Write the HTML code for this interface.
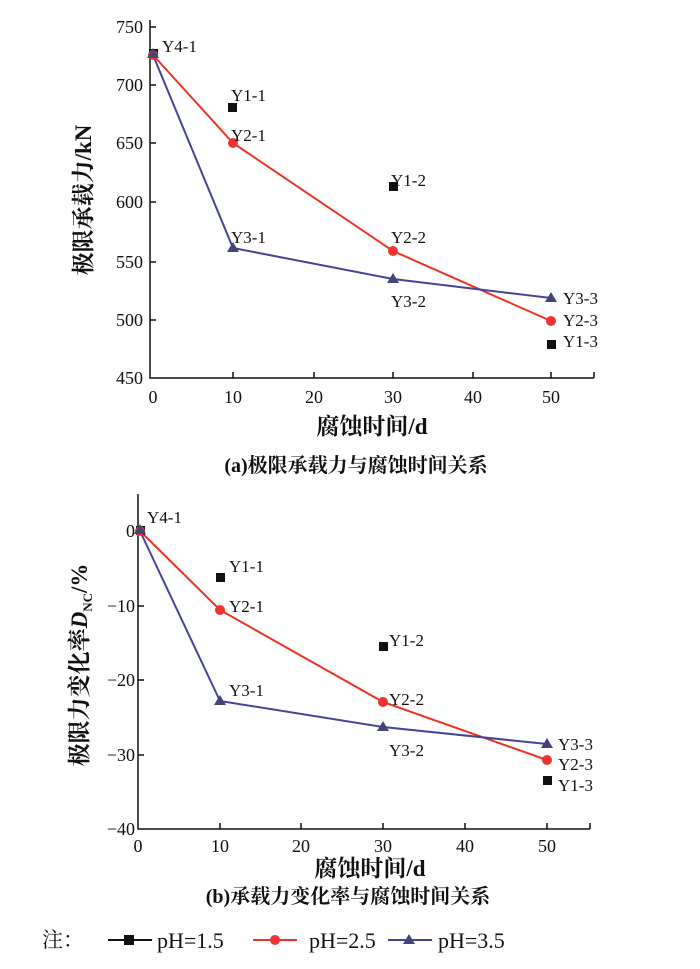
<!DOCTYPE html>
<html><head><meta charset="utf-8"><style>
html,body{margin:0;padding:0;background:#fff}
svg text{font-family:"Liberation Serif","Noto Serif CJK SC",serif;fill:#111}
</style></head><body>
<svg width="700" height="964" viewBox="0 0 700 964" xmlns="http://www.w3.org/2000/svg">
<!-- Chart A -->
<g stroke="#111" stroke-width="1.5" fill="none">
<path d="M150,20 V378 H594"/>
<path d="M150,27h6M150,85h6M150,143h6M150,202h6M150,262h6M150,320h6"/>
<path d="M233,378v-6M314,378v-6M393,378v-6M473,378v-6M551,378v-6M594,378v-6"/>
</g>
<g font-size="18" text-anchor="end">
<text x="143" y="33">750</text><text x="143" y="91">700</text><text x="143" y="149">650</text><text x="143" y="208">600</text><text x="143" y="268">550</text><text x="143" y="326">500</text><text x="143" y="384">450</text>
</g>
<g font-size="18" text-anchor="middle">
<text x="153" y="403">0</text><text x="233" y="403">10</text><text x="314" y="403">20</text><text x="393" y="403">30</text><text x="473" y="403">40</text><text x="551" y="403">50</text>
</g>
<text x="372" y="434" font-size="23" font-weight="bold" text-anchor="middle">腐蚀时间/d</text>
<text x="356" y="472" font-size="20" font-weight="bold" text-anchor="middle">(a)极限承载力与腐蚀时间关系</text>
<text transform="translate(91,200) rotate(-90)" font-size="23" font-weight="bold" text-anchor="middle">极限承载力/kN</text>
<polyline points="153,55 233,143 393,251 551,321" fill="none" stroke="#e32" stroke-width="2"/>
<polyline points="153,55 233,248 393,279 551,298" fill="none" stroke="#449" stroke-width="2"/>
<g fill="#111"><rect x="149" y="49" width="9" height="9"/><rect x="228" y="103" width="9" height="9"/><rect x="389" y="182" width="9" height="9"/><rect x="547" y="340" width="9" height="9"/></g>
<g fill="#e33"><circle cx="153" cy="55" r="5"/><circle cx="233" cy="143" r="5"/><circle cx="393" cy="251" r="5"/><circle cx="551" cy="321" r="5"/></g>
<g fill="#447"><path d="M153,48l6,10h-12z"/><path d="M233,242l6,10h-12z"/><path d="M393,273l6,10h-12z"/><path d="M551,292l6,10h-12z"/></g>
<g font-size="17">
<text x="162" y="52">Y4-1</text><text x="231" y="101">Y1-1</text><text x="231" y="141">Y2-1</text><text x="231" y="243">Y3-1</text>
<text x="391" y="186">Y1-2</text><text x="391" y="243">Y2-2</text><text x="391" y="307">Y3-2</text>
<text x="563" y="304">Y3-3</text><text x="563" y="326">Y2-3</text><text x="563" y="347">Y1-3</text>
</g>
<!-- Chart B -->
<g stroke="#111" stroke-width="1.5" fill="none">
<path d="M138,494 V829 H590"/>
<path d="M138,531h6M138,606h6M138,680h6M138,755h6"/>
<path d="M220,829v-6M301,829v-6M383,829v-6M465,829v-6M547,829v-6M590,829v-6"/>
</g>
<g font-size="18" text-anchor="end">
<text x="135" y="537">0</text><text x="135" y="612">−10</text><text x="135" y="686">−20</text><text x="135" y="761">−30</text><text x="135" y="835">−40</text>
</g>
<g font-size="18" text-anchor="middle">
<text x="138" y="852">0</text><text x="220" y="852">10</text><text x="301" y="852">20</text><text x="383" y="852">30</text><text x="465" y="852">40</text><text x="547" y="852">50</text>
</g>
<text x="370" y="876" font-size="23" font-weight="bold" text-anchor="middle">腐蚀时间/d</text>
<text x="348" y="903" font-size="20" font-weight="bold" text-anchor="middle">(b)承载力变化率与腐蚀时间关系</text>
<text transform="translate(87,665) rotate(-90)" font-size="23" font-weight="bold" text-anchor="middle">极限力变化率<tspan font-style="italic">D</tspan><tspan font-size="13" dy="5">NC</tspan><tspan dy="-5">/%</tspan></text>
<polyline points="140,531 220,610 383,702 547,760" fill="none" stroke="#e32" stroke-width="2"/>
<polyline points="140,531 220,701 383,727 547,744" fill="none" stroke="#449" stroke-width="2"/>
<g fill="#111"><rect x="136" y="526" width="9" height="9"/><rect x="216" y="573" width="9" height="9"/><rect x="379" y="642" width="9" height="9"/><rect x="543" y="776" width="9" height="9"/></g>
<g fill="#e33"><circle cx="140" cy="531" r="5"/><circle cx="220" cy="610" r="5"/><circle cx="383" cy="702" r="5"/><circle cx="547" cy="760" r="5"/></g>
<g fill="#447"><path d="M140,524l6,10h-12z"/><path d="M220,695l6,10h-12z"/><path d="M383,721l6,10h-12z"/><path d="M547,738l6,10h-12z"/></g>
<g font-size="17">
<text x="147" y="523">Y4-1</text><text x="229" y="572">Y1-1</text><text x="229" y="612">Y2-1</text><text x="229" y="696">Y3-1</text>
<text x="389" y="646">Y1-2</text><text x="389" y="705">Y2-2</text><text x="389" y="756">Y3-2</text>
<text x="558" y="750">Y3-3</text><text x="558" y="770">Y2-3</text><text x="558" y="791">Y1-3</text>
</g>
<!-- Legend -->
<text x="42" y="947" font-size="21">注：</text>
<path d="M108,940h44" stroke="#111" stroke-width="2"/><rect x="124" y="935" width="10" height="10" fill="#111"/>
<text x="157" y="948" font-size="22">pH=1.5</text>
<path d="M253,940h44" stroke="#e32" stroke-width="2"/><circle cx="275" cy="940" r="5" fill="#e33"/>
<text x="309" y="948" font-size="22">pH=2.5</text>
<path d="M388,940h44" stroke="#449" stroke-width="2"/><path d="M409,934l6,10h-12z" fill="#447"/>
<text x="438" y="948" font-size="22">pH=3.5</text>
</svg>
</body></html>
